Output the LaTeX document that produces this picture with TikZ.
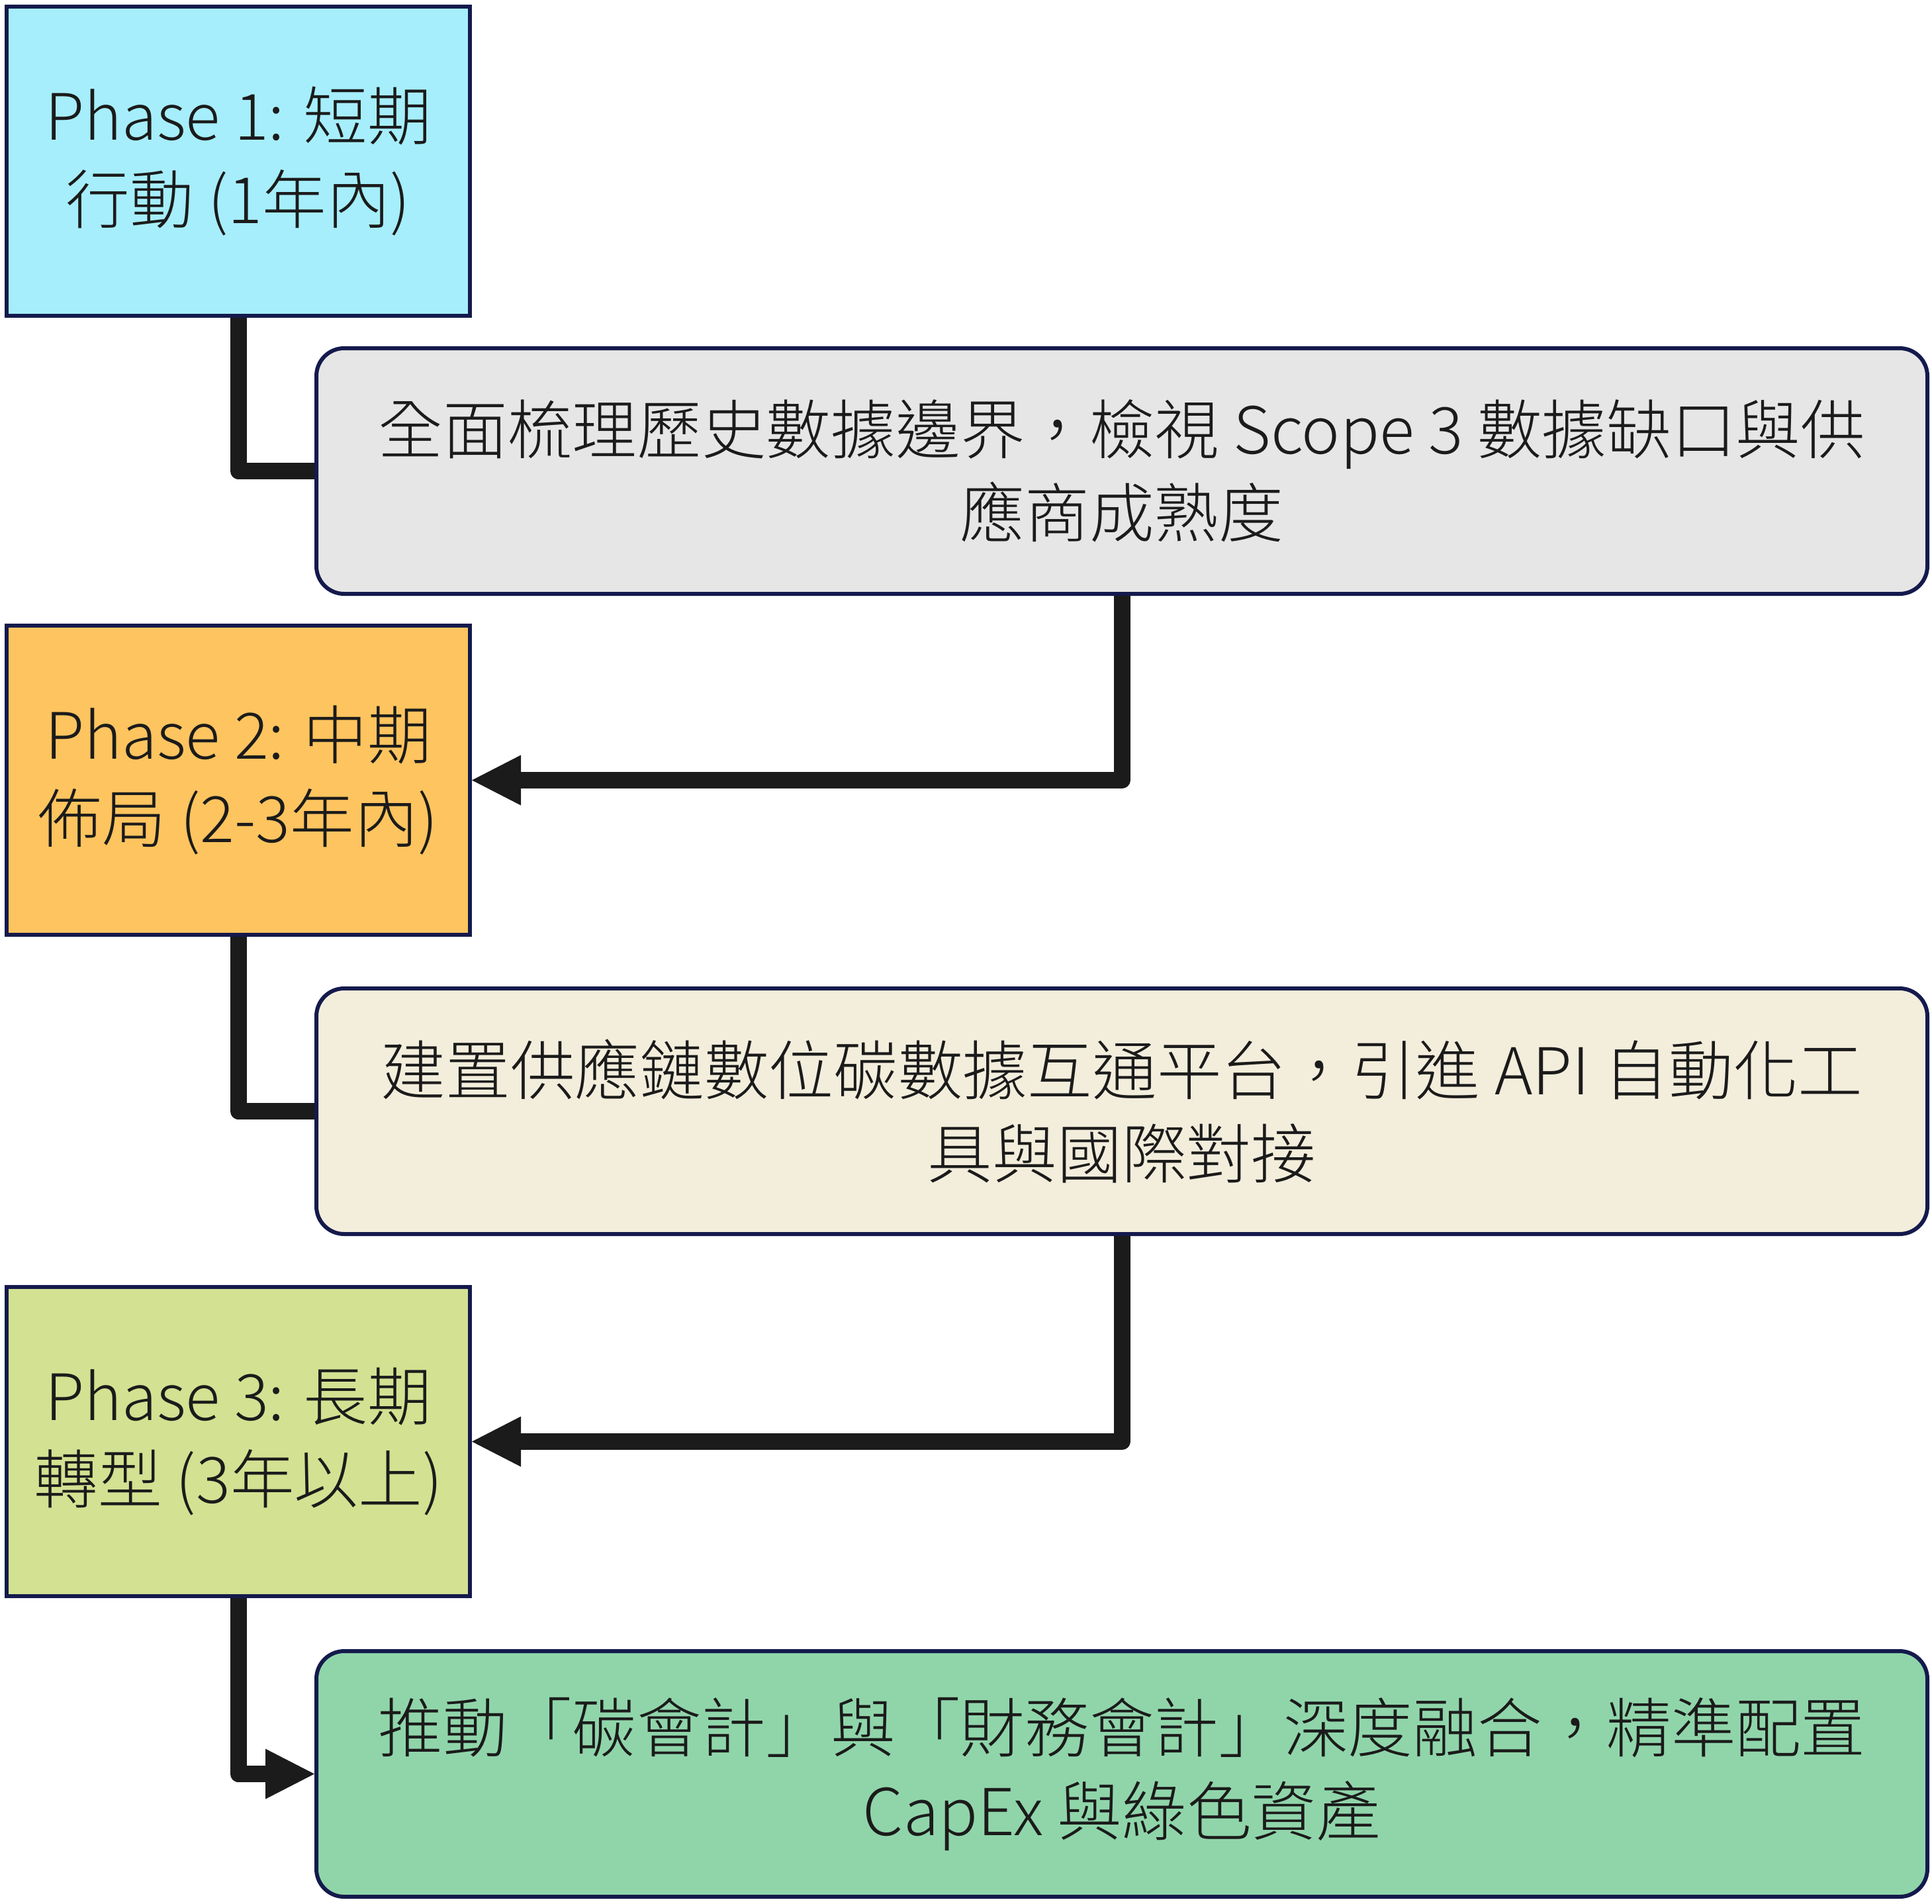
\documentclass[tikz,border=0pt]{standalone}
\usepackage{fontspec}
\setmainfont{Noto Sans CJK TC}[UprightFont=* Light]
\usepackage{xcolor}
\usepackage{tikz}
\usetikzlibrary{arrows.meta,positioning}

\definecolor{phaseone}{HTML}{A6EEFC}
\definecolor{phasetwo}{HTML}{FEC45F}
\definecolor{phasethree}{HTML}{D3E192}
\definecolor{descgrey}{HTML}{E6E6E6}
\definecolor{desccream}{HTML}{F3EDDC}
\definecolor{descgreen}{HTML}{90D5AA}
\definecolor{edgenavy}{HTML}{141A4C}
\definecolor{inkblack}{HTML}{1B1B1B}

\begin{document}
\begin{tikzpicture}[
    phase/.style={rectangle, draw=edgenavy, line width=0.06cm, minimum width=7cm, minimum height=4.67cm, align=center, text=inkblack, font=\fontsize{27.5}{35.8}\selectfont},
    desc/.style={rectangle, draw=edgenavy, line width=0.06cm, rounded corners=0.42cm, minimum width=24.34cm, minimum height=3.71cm, align=center, text=inkblack, font=\fontsize{27.8}{35.8}\selectfont},
    link/.style={draw=inkblack, line width=0.25cm, line join=round},
    arrow/.style={link, ->, >={Triangle[length=0.74cm, width=0.76cm, line width=0pt]}}
]
\useasboundingbox (0,0) rectangle (29.19,-28.75);

\node[phase, fill=phaseone, anchor=north west] (short) at (0.07,-0.07) {Phase 1: 短期\\行動 (1年內)};
\node[desc, fill=descgrey, below right=0.43cm and -2.38cm of short] (scope) {全面梳理歷史數據邊界，檢視 Scope 3 數據缺口與供\\應商成熟度};
\node[phase, fill=phasetwo, below left=0.42cm and -2.38cm of scope] (mid) {Phase 2: 中期\\佈局 (2-3年內)};
\node[desc, fill=desccream, below right=0.75cm and -2.38cm of mid] (platform) {建置供應鏈數位碳數據互通平台，引進 API 自動化工\\具與國際對接};
\node[phase, fill=phasethree, below left=0.74cm and -2.38cm of platform] (long) {Phase 3: 長期\\轉型 (3年以上)};
\node[desc, fill=descgreen, below right=0.77cm and -2.38cm of long] (capex) {推動「碳會計」與「財務會計」深度融合，精準配置\\CapEx 與綠色資產};

\draw[link] (short.south) |- (scope.west);
\draw[arrow] (scope.south) |- (mid.east);
\draw[link] (mid.south) |- (platform.west);
\draw[arrow] (platform.south) |- (long.east);
\draw[arrow] (long.south) |- (capex.west);

\end{tikzpicture}
\end{document}
